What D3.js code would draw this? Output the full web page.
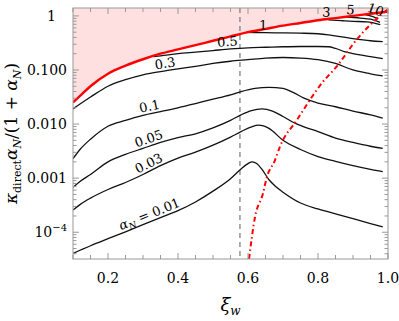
<!DOCTYPE html>
<html>
<head>
<meta charset="utf-8">
<script src="https://cdn.jsdelivr.net/npm/d3@7"></script>
<style>
  body { margin: 0; background: #fff; }
  svg text { font-family: 'DejaVu Serif', serif; fill: #000; }
</style>
</head>
<body>
<svg id="chart" width="399" height="321"></svg>
<script>
// values: [xi_w, kappa_direct * alphaN / (1 + alphaN)]
const boundary = [
  [0.1, 0.0251], [0.12, 0.0331], [0.15, 0.0501], [0.2, 0.0851], [0.25, 0.120],
  [0.3, 0.158], [0.35, 0.200], [0.4, 0.240], [0.45, 0.288], [0.5, 0.347],
  [0.55, 0.417], [0.6, 0.501], [0.65, 0.575], [0.7, 0.661], [0.75, 0.741],
  [0.8, 0.832], [0.85, 0.912], [0.9, 1.0], [0.95, 1.096], [1.0, 1.202]
]
// red dot-dashed curve
const dashDot = [
  [0.603, 3.2e-5], [0.62, 1.91e-4], [0.643, 5.25e-4], [0.653, 1.0e-3], [0.677, 2.14e-3],
  [0.691, 3.80e-3], [0.739, 0.0117], [0.814, 0.0603], [0.853, 0.115], [0.91, 0.363],
  [0.986, 1.122], [0.998, 1.30]
]
const xiJ = 0.577

const a001 = [
  [0.1, 4.07e-5], [0.15, 5.62e-5], [0.2, 7.59e-5], [0.25, 1.02e-4], [0.3, 1.38e-4],
  [0.35, 1.86e-4], [0.4, 2.51e-4], [0.45, 3.63e-4], [0.5, 5.75e-4], [0.55, 9.77e-4],
  [0.58, 1.48e-3], [0.6, 1.86e-3], [0.612, 2.0e-3], [0.625, 1.86e-3], [0.64, 1.45e-3],
  [0.66, 9.33e-4], [0.68, 6.92e-4], [0.7, 5.5e-4], [0.75, 3.47e-4], [0.8, 2.69e-4],
  [0.85, 2.19e-4], [0.9, 1.78e-4], [0.95, 1.45e-4], [0.985, 1.26e-4]
]
const a003 = [
  [0.1, 2.57e-4], [0.12, 3.24e-4], [0.15, 4.27e-4], [0.2, 6.17e-4], [0.25, 8.32e-4],
  [0.3, 1.17e-3], [0.35, 1.70e-3], [0.4, 2.34e-3], [0.45, 3.02e-3], [0.5, 4.07e-3],
  [0.55, 5.75e-3], [0.58, 7.24e-3], [0.61, 8.91e-3], [0.63, 9.55e-3], [0.66, 8.32e-3],
  [0.7, 5.01e-3], [0.75, 3.39e-3], [0.8, 2.51e-3], [0.85, 2.04e-3], [0.9, 1.70e-3],
  [0.95, 1.45e-3], [0.985, 1.32e-3]
]
const a005 = [
  [0.1, 6.76e-4], [0.12, 8.71e-4], [0.15, 1.17e-3], [0.2, 2.0e-3], [0.25, 2.75e-3],
  [0.3, 3.55e-3], [0.35, 4.57e-3], [0.4, 5.62e-3], [0.45, 6.61e-3], [0.5, 8.51e-3],
  [0.55, 0.0117], [0.58, 0.0148], [0.61, 0.0178], [0.64, 0.0191], [0.67, 0.0174],
  [0.7, 0.0138], [0.73, 0.0107], [0.76, 8.91e-3], [0.8, 7.24e-3], [0.85, 5.5e-3],
  [0.9, 4.57e-3], [0.95, 3.89e-3], [0.985, 3.55e-3]
]
const a01 = [
  [0.1, 2.29e-3], [0.12, 3.39e-3], [0.15, 5.25e-3], [0.2, 9.12e-3], [0.25, 0.0117],
  [0.3, 0.0145], [0.35, 0.0170], [0.4, 0.0200], [0.45, 0.0240], [0.5, 0.0288],
  [0.55, 0.0347], [0.58, 0.0398], [0.62, 0.0457], [0.66, 0.0479], [0.7, 0.0457],
  [0.73, 0.0380], [0.76, 0.0302], [0.8, 0.0245], [0.85, 0.0209], [0.9, 0.0174],
  [0.95, 0.0148], [0.985, 0.0129]
]
const a03 = [
  [0.1, 0.0191], [0.15, 0.0316], [0.2, 0.0501], [0.25, 0.0661], [0.3, 0.0813],
  [0.35, 0.0933], [0.4, 0.105], [0.45, 0.117], [0.5, 0.132], [0.55, 0.145],
  [0.6, 0.155], [0.65, 0.166], [0.7, 0.170], [0.75, 0.166], [0.8, 0.155],
  [0.85, 0.132], [0.9, 0.100], [0.95, 0.0851], [0.985, 0.0776]
]
const a05 = [
  [0.33, 0.176], [0.35, 0.182], [0.4, 0.200], [0.45, 0.214], [0.5, 0.229],
  [0.55, 0.245], [0.6, 0.257], [0.65, 0.263], [0.7, 0.269], [0.75, 0.272],
  [0.8, 0.272], [0.83, 0.269], [0.85, 0.251], [0.875, 0.219], [0.9, 0.200],
  [0.95, 0.176], [0.985, 0.162]
]
const a1 = [
  [0.595, 0.495], [0.65, 0.490], [0.7, 0.484], [0.75, 0.479], [0.8, 0.468],
  [0.83, 0.447], [0.85, 0.427], [0.9, 0.380], [0.95, 0.347], [0.985, 0.335]
]
const a3 = [[0.83, 0.841], [0.87, 0.813], [0.9, 0.794], [0.94, 0.776], [0.978, 0.690]]
const a5 = [[0.88, 0.955], [0.92, 0.912], [0.95, 0.871], [0.977, 0.760]]
const a10 = [[0.935, 1.059], [0.955, 0.977], [0.972, 0.880]]

const curveNames = ['0.01', '0.03', '0.05', '0.1', '0.3', '0.5', '1', '3', '5', '10']
const curveData = [a001, a003, a005, a01, a03, a05, a1, a3, a5, a10]
// where along xi_w each contour label sits
const labelX = [0.326, 0.326, 0.323, 0.323, 0.366, 0.543, 0.643, 0.823, 0.891, 0.957]

const xTicks = [0.2, 0.4, 0.6, 0.8, 1.0]
const xTickLabels = ['0.2', '0.4', '0.6', '0.8', '1.0']
const yTicks = [1e-4, 1e-3, 1e-2, 1e-1, 1]
const yTickLabels = ['10', '0.001', '0.010', '0.100', '1']

const svg = d3.select('#chart')
const mLeft = 73, mRight = 388, mTop = 8, mBottom = 259

const x = d3.scaleLinear().domain([0.1, 1.0]).range([mLeft, mRight])
const y = d3.scaleLog().domain([3.2e-5, 1.4]).range([mBottom, mTop])

svg.append('clipPath').attr('id', 'clip')
  .append('rect').attr('x', mLeft).attr('y', mTop)
  .attr('width', mRight - mLeft).attr('height', mBottom - mTop)

const plot = svg.append('g').attr('clip-path', 'url(#clip)')

const line = d3.line()
  .x(d => x(d[0]))
  .y(d => y(d[1]))
  .curve(d3.curveMonotoneX)

const area = d3.area()
  .x(d => x(d[0]))
  .y0(mTop)
  .y1(d => y(d[1]))
  .curve(d3.curveMonotoneX)

plot.append('path').datum(boundary)
  .attr('d', area).attr('fill', '#ffe0e0')

plot.append('line')
  .attr('x1', x(xiJ)).attr('x2', x(xiJ))
  .attr('y1', mTop).attr('y2', mBottom)
  .attr('stroke', '#777').attr('stroke-width', 1.2)
  .attr('stroke-dasharray', '5,4')

plot.selectAll('.contour')
  .data(curveData)
  .enter()
  .append('path')
  .attr('class', 'contour')
  .attr('d', line)
  .attr('fill', 'none')
  .attr('stroke', '#111')
  .attr('stroke-width', 1.3)

plot.append('path').datum(boundary)
  .attr('d', line).attr('fill', 'none')
  .attr('stroke', '#f00').attr('stroke-width', 2.4)

plot.append('path').datum(dashDot)
  .attr('d', line)
  .attr('fill', 'none')
  .attr('stroke', '#f00').attr('stroke-width', 2)
  .attr('stroke-dasharray', '5,3,1.5,3')

// frame and ticks
const axes = svg.append('g').attr('stroke', '#999').attr('stroke-width', 1)
axes.append('rect').attr('x', mLeft).attr('y', mTop)
  .attr('width', mRight - mLeft).attr('height', mBottom - mTop).attr('fill', 'none')

const xMinor = d3.range(0.1, 1.0001, 0.05)
xMinor.forEach(v => {
  const len = Math.abs(v * 5 - Math.round(v * 5)) < 1e-6 ? 6 : 4
  axes.append('line').attr('x1', x(v)).attr('x2', x(v)).attr('y1', mBottom).attr('y2', mBottom - len)
  axes.append('line').attr('x1', x(v)).attr('x2', x(v)).attr('y1', mTop).attr('y2', mTop + len)
})

const yMinor = []
for (let e = -5; e <= 0; e++) {
  for (let m = 1; m <= 9; m++) {
    const v = m * Math.pow(10, e)
    if (v >= 3.2e-5 && v <= 1.4) yMinor.push([v, m === 1 ? 6 : 3.5])
  }
}
yMinor.forEach(([v, len]) => {
  axes.append('line').attr('x1', mLeft).attr('x2', mLeft + len).attr('y1', y(v)).attr('y2', y(v))
  axes.append('line').attr('x1', mRight).attr('x2', mRight - len).attr('y1', y(v)).attr('y2', y(v))
})

svg.selectAll('.xlab')
  .data(xTicks)
  .enter()
  .append('text')
  .attr('class', 'xlab')
  .attr('x', d => x(d))
  .attr('y', mBottom + 24)
  .attr('text-anchor', 'middle')
  .attr('font-size', 14)
  .text((d, i) => xTickLabels[i])

yTicks.forEach((v, i) => {
  const t = svg.append('text')
    .attr('x', yTickLabels[i] === '1' ? 56 : 67)
    .attr('y', y(v) + 5)
    .attr('text-anchor', 'end')
    .attr('font-size', 14)
  if (i === 0) {
    t.append('tspan').text('10')
    t.append('tspan').attr('dy', -6).attr('font-size', 10).text('\u22124')
  } else {
    t.text(yTickLabels[i])
  }
})

// contour labels, rotated along the curve
function valueAt(pts, xv) {
  const i = Math.max(1, Math.min(pts.length - 1, d3.bisector(d => d[0]).left(pts, xv)))
  const a = pts[i - 1], b = pts[i]
  const t = (xv - a[0]) / (b[0] - a[0])
  return Math.exp(Math.log(a[1]) + t * (Math.log(b[1]) - Math.log(a[1])))
}

curveNames.forEach((name, i) => {
  const pts = curveData[i]
  const xv = labelX[i]
  const h = 0.015
  const x0 = Math.max(pts[0][0], xv - h), x1 = Math.min(pts[pts.length - 1][0], xv + h)
  const ang = Math.atan2(y(valueAt(pts, x1)) - y(valueAt(pts, x0)), x(x1) - x(x0)) * 180 / Math.PI
  const px = x(xv), py = y(valueAt(pts, xv))
  const t = svg.append('text')
    .attr('transform', 'translate(' + px + ',' + py + ') rotate(' + ang + ')')
    .attr('y', -3)
    .attr('text-anchor', 'middle')
    .attr('font-size', 13)
  if (i === 0) {
    t.append('tspan').attr('font-style', 'italic').text('\u03b1')
    t.append('tspan').attr('dy', 3).attr('font-size', 9).attr('font-style', 'italic').text('N')
    t.append('tspan').attr('dy', -3).text(' = ' + name)
  } else {
    t.text(name)
  }
})

// axis titles
const yl = svg.append('text')
  .attr('transform', 'translate(17,' + (mTop + mBottom) / 2 + ') rotate(-90)')
  .attr('text-anchor', 'middle')
  .attr('font-size', 17)
yl.append('tspan').attr('font-style', 'italic').text('\u03ba')
yl.append('tspan').attr('dy', 4).attr('font-size', 11).text('direct')
yl.append('tspan').attr('dy', -4).attr('font-style', 'italic').text('\u03b1')
yl.append('tspan').attr('dy', 4).attr('font-size', 11).attr('font-style', 'italic').text('N')
yl.append('tspan').attr('dy', -4).text('/(1 + ')
yl.append('tspan').attr('font-style', 'italic').text('\u03b1')
yl.append('tspan').attr('dy', 4).attr('font-size', 11).attr('font-style', 'italic').text('N')
yl.append('tspan').attr('dy', -4).text(')')

const xl = svg.append('text')
  .attr('x', (mLeft + mRight) / 2)
  .attr('y', 311)
  .attr('text-anchor', 'middle')
  .attr('font-size', 18)
xl.append('tspan').attr('font-style', 'italic').text('\u03be')
xl.append('tspan').attr('dy', 4).attr('font-size', 12).attr('font-style', 'italic').text('w')
</script>
</body>
</html>
